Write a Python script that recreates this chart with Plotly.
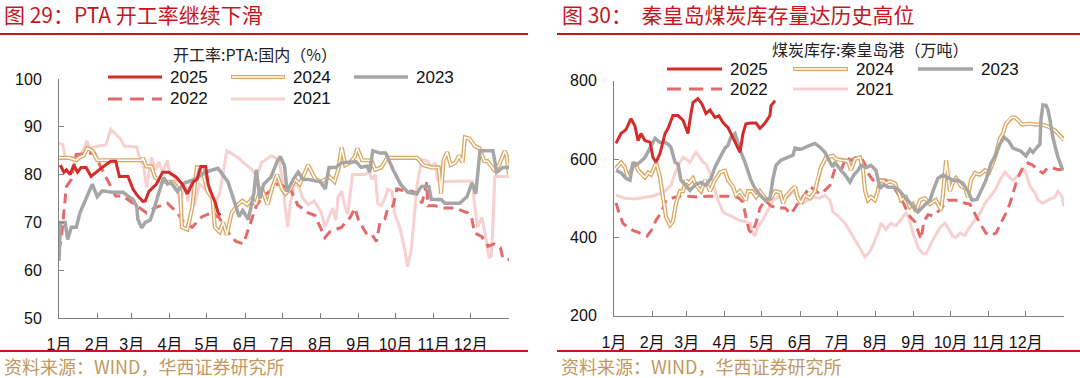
import plotly.graph_objects as go

W, H = 1080, 378

MONTH_START = [0, 31, 59, 90, 120, 151, 181, 212, 243, 273, 304, 334, 365]
MONTH_LABELS = ["1月", "2月", "3月", "4月", "5月", "6月", "7月", "8月", "9月", "10月", "11月", "12月", ""]

# ---------------- Left chart: PTA operating rate (%) ----------------
L25_D = [1,4,6,9,12,15,18,22,26,30,35,42,46,49,56,60,63,68,70,73,79,84,89,95,100,104,109,112,115,119,121,124,127,129,131]
L25_V = [82,80.5,81,80,82,80.5,81.5,81.5,79.6,80.5,81.5,82.8,82.8,79.6,79.6,77,75.8,74.4,74.5,76.5,78,80.5,80.5,79.5,78,76,78.5,79,81.7,81.7,78,75.8,74,72,71.5]

L24_D = [0,8,14,16,20,23,27,31,45,60,67,68,71,75,78,84,92,95,98.3,99.7,104.1,108,111.8,115.7,120.6,124.5,126.4,130.3,133.2,136.1,140,144.9,148.7,152.6,156.5,159.4,164.3,169.1,173,176.9,180.8,183.7,187.6,191.5,195.3,202.1,208,212.8,219.6,223.5,226.4,229.3,232.2,236.1,240,242,245.8,250.7,253.6,256.5,261.4,266.2,280.8,290.5,295.4,302.2,308,309.9,311.9,314.8,317.7,321.6,324.5,327.4,329.3,333.2,337.1,341,344.9,347.5,353,357,361.5,363,365]
L24_V = [83.5,83.5,83,83.5,84,85.5,85,83,83,83,83,83.5,81.7,81.7,79.4,78.5,78.5,77.5,76.5,69,68.5,73,81.5,81.5,76.5,75,69,68,70,67.4,72,73.7,74.5,73.7,75,73.7,77.3,73.7,77.3,80,77,76,77,79,78,82,79,78.5,79.5,78.5,81,85.7,82,82.5,83.8,85.5,83,83,82.8,81,81.5,83.5,83.5,83.5,82,81.5,81.5,76,83,84.7,82,82.5,84,82.5,87.8,87.5,86,85.5,82.8,82.8,81,82,85,84,80]

L23_D = [0,1,5,7,10,14,17,22.5,27,31,35,43,52,56,60,63,64,67,70,74,77,81,85,88,91,96,102,110,118.5,129,137,143.5,146,149,153.5,158,160,163,166,172,177,179.5,183,185,190,194,198,202,212,216,219,224.5,229.5,241,245,250,252,254.5,260.5,265,271,277,283,290,294,300,302,310,313,325,331,335,338,341.5,352,355,360,365]
L23_V = [62,70,70,66.4,69,69,72,75.4,78,75.4,76.6,76.3,76.3,75.5,74.8,73.4,70.6,68.9,70,70.5,72.7,76.2,79.4,78,78.3,76.5,78.3,79,80.5,81.3,78.5,73.4,71.2,72.5,70.6,76,81,75,78,79.5,82.8,83.8,81.8,76.4,79,80.5,79,79,78.5,77,81.5,81.5,82.5,82.7,81.5,81.8,80.5,85,84.5,84.5,81,78,76.3,76,77.5,77.5,74.8,74.8,74,74,75.4,78.3,76,85,85,80.5,81.5,81.5]

L22_D = [0,2,6,10,14,24,29,32,35,41,46,52,60,63,71,77,88,96,102,108,116,124,130,135,143.5,149.5,153,160,166,171,174.5,177,183,185.6,191.5,193.4,202.1,207.5,211.9,215.7,219.6,229.3,232.2,236.1,240,242.9,246.3,249.7,253.6,257.5,260.4,264.3,266.7,271.1,274,281.8,286.1,290.5,294.4,298.3,299.2,305.1,310.4,321.1,331.3,334.7,337.1,343,346,348,353,358,360,365]
L22_V = [64,67,77.5,79,84.2,84.5,84.5,82.5,81,78,75.5,75.5,74,73.4,72,73,74,72,69.7,69,71.2,72,71,68.5,66,65.5,68,73.4,75.6,76.5,77.5,78,77.5,78,75,73.7,72,71.5,69,66.8,68,69,70,71,73,70.5,69,67.5,67.5,66,70,70.7,73,73.5,77,76.5,76.5,76,74,78.4,73.5,73.5,73,73,72,71,67.8,67,66,65,65.5,64.7,62.5,62.2]

L21_D = [0,3,5,14,18,22.5,25,32,38,42,50,53,63,66,68.5,71,75,78.5,81,84,88,90,94,96,98.2,102.1,104.6,107,109.9,113.8,120.6,126.4,130.3,136.1,140,145,149.7,156.5,160.4,164.3,167.2,172,175,178.8,181.7,183.2,185.6,187.6,191.5,195.3,197.3,202.1,207,212.8,215.7,218.6,222,224.5,226.4,229.3,232.2,234.2,238.1,243.9,247.8,251.7,253.6,256.5,258.5,261.4,264.3,266.7,270.1,272,276.4,280.8,282.7,285.6,288.6,290.5,294.4,299.2,302.2,305.1,307,310.4,319.6,335.2,337.1,339.5,343,345.4,348.8,350.7,352,353.5,365]
L21_V = [86.5,86.3,83.6,83.6,84,87,85.5,86,86.2,89.5,87.4,86,85.8,83,82,77.3,83.6,81,82.7,80.5,83,80,79.4,76.5,74.4,78,74.4,79,73.5,78,76.5,74,76,85,84.4,83.6,82.5,81,79.6,82.6,83,84,83.6,82.8,78,73.7,69,74,78.5,77,75.3,73.7,74.5,72,69,71,73,70.5,75.3,76.5,73,71.8,80,80,80,80.5,79,80,74,73.5,75,77,76.5,72,69,63.9,60.7,64,73.7,78,83.2,82.8,81.5,82.5,79,78.5,78.6,78.6,73.7,69,71,68,62.6,63,70,79.6,79.6]

# ---------------- Right chart: Qinhuangdao coal stock (10k t) ----------------
R25_D = [1.6,5.7,9.7,13.8,17,19.5,21.9,25.1,29.2,31.6,34.1,37.3,41.4,43.8,47.8,51.9,56,60,61.6,64,68.1,71.4,74.6,77.9,81.9,85.2,88.4,92.5,94.9,98.9,102.2,104.6,107,111,115.2,118.4,122.5,126.5,127.3,130.6]
R25_V = [640,665,675,703,684,647,665,647,643,604,592,614,665,678,711,711,699,665,700,744,754,740,716,725,706,710,693,680,665,640,617,665,690,692,692,678,692,711,736,749]

R24_D = [1.6,5.7,8.9,11.4,14.6,17,19.5,21.9,25.1,27.6,30,33.3,34.9,37.3,39.7,42.2,45.4,47.8,50.3,53.5,56,58.4,60.8,64,66.5,70.6,73.8,77.9,81.9,86,90,92.5,96.5,98.9,102.2,104.6,107,108.7,111.9,115.2,118.4,122.5,124.9,127.3,130.6,134.6,137.1,139.5,143.5,146.8,149.2,151.7,154.9,159,163,165.4,167.9,171.9,177.6,180,184.1,189.8,192.2,195.5,199.5,201.9,203.6,206,208.4,211.7,214.1,215.7,219,220.6,223.8,227.9,230.3,232.8,236.8,240,242.5,244.9,248.2,252.2,256.3,261.1,265.2,266.8,269.3,270.9,272.5,274.9,277.4,281.4,284.7,287.1,289.5,292.8,296.8,300.9,304.1,307.4,309.8,313,315.5,317.9,321.2,322.8,325.2,327.6,330.9,337.4,342.2,347.1,352,357.6,363.3,365]
R24_V = [576,591,579,551,575,591,572,562,553,565,560,584,584,553,503,452,431,440,487,518,518,546,538,551,533,518,546,518,546,566,570,546,530,508,518,505,495,518,518,503,518,500,495,500,518,515,487,505,518,530,500,487,508,500,518,553,579,604,608,600,597,595,571,600,604,575,520,495,503,495,520,546,543,538,543,538,520,495,503,478,485,465,495,500,485,495,470,508,597,556,518,540,551,531,526,503,546,564,560,571,565,591,612,652,665,690,703,706,706,700,688,690,688,688,683,673,655,648]

R23_D = [1.6,5.7,9.7,13,15.4,17.8,21.1,25.1,29.2,33.3,37.3,41.4,43.8,46.2,49.5,51.9,54.3,57.6,61.6,64,66.5,70.6,74.6,78.7,81.9,86,90,92.5,94.9,98.1,100.6,103,106.2,108.7,111.1,114.4,118.4,122.5,126.5,129,131.4,135.4,141.1,145.2,146.8,151.7,157.3,163,167.1,171.1,175.2,177.6,179.2,181.7,184.1,187.3,191.4,194.6,197.9,200.3,204.4,208.4,212.5,215.7,219,222.2,227.9,231.9,236,240,244.1,246.5,252.2,256.3,258.7,262.8,266.8,270.9,274.9,279,283,287.1,290.3,294.4,297.6,301.7,305.7,309.8,313,316.3,320.3,323.6,330.1,334.1,337.4,339.8,343.1,345.5,346.3,347.9,350.4,352,353.6,356,360,364.1]
R23_V = [571,565,551,546,592,585,592,604,628,653,642,642,638,630,592,587,546,535,520,528,536,540,533,551,579,604,628,635,656,665,640,617,592,571,546,525,508,495,500,551,584,597,604,610,628,625,633,640,630,617,592,580,592,580,571,560,541,560,571,584,578,584,571,525,535,528,528,518,503,487,475,465,483,495,518,551,559,553,546,546,538,518,495,497,518,546,589,612,638,656,645,628,620,608,625,617,630,638,700,738,737,726,700,655,605,571]

R22_D = [1.6,4.1,7.3,11.4,15.4,21.1,26.8,30.8,34.1,38.1,42.2,47,51.9,60,68.1,76.2,84.3,92.5,100.6,104.6,107,109.5,111.9,115.2,118.4,122.5,127.3,133,138.7,143.5,146.8,150.8,154.9,159,163,167.1,171.1,175.2,179.2,184.1,188.2,192.2,196.3,200.3,203.6,206,210,215.7,220.6,224.6,228.7,231.9,235.2,238.4,240.9,244.1,246.5,249,251.4,254.7,258.7,264.4,270.9,279,284.7,288.7,293.6,296.8,301.7,305.7,309.8,313.9,317.9,321.2,324.4,326.8,329.3,332.5,335.8,339.8,343.9,347.9,351.2,355.2,360,364.9]
R22_V = [488,462,436,425,418,411,403,420,444,462,495,500,505,505,503,505,505,505,502,490,452,418,411,437,475,495,480,475,475,460,475,495,510,530,520,510,520,533,575,571,604,597,604,604,587,564,546,548,546,538,520,503,485,462,450,440,415,395,440,458,455,470,495,495,487,485,455,436,411,405,411,436,462,487,520,546,564,584,590,584,571,564,576,578,573,573]

R21_D = [1.6,8.9,17,25.1,30.8,35.7,41.4,46.2,49.5,53.5,56,58.4,61.6,64,66.5,69.7,72.2,74.6,77.9,80.3,84.3,88.4,90.8,94.9,100.6,106.2,110.3,112.7,114.4,116.8,120.8,124.9,129,133,137.1,141.1,145.2,149.2,153.3,157.3,161.4,167.1,171.1,175.2,177.6,181.7,187.3,192.2,196.3,200.3,203.6,206.8,210,214.1,216.5,220.6,224.6,228.7,232.8,236.8,239.2,242.5,246.5,250.6,253,256.3,260.3,265.2,268.4,271.7,274.9,277.4,280.6,284.7,287.1,292.8,296.8,300.9,304.9,309,313,317.1,320.3,323.6,326.8,330.1,333.3,337.4,341.4,343.9,347.9,352,357.6,360,363.3,365]
R21_V = [508,500,498,503,505,510,518,533,564,592,604,600,592,605,617,604,592,587,564,538,495,465,460,455,445,440,436,411,403,428,445,470,495,503,497,503,518,503,487,495,503,500,508,495,465,455,436,411,389,368,350,360,380,411,436,420,436,430,445,462,450,411,375,358,358,380,403,428,436,420,403,400,411,405,420,445,462,487,503,520,546,567,555,546,555,567,571,531,513,495,487,495,503,518,505,478]

LEFT_TICKS = [50, 60, 70, 80, 90, 100]
RIGHT_TICKS = [200, 400, 600, 800]

# ---------------- styles ----------------
RED = "#D42B2B"
GOLD = "#D9A965"
GRAY = "#A6A6A6"
DASHRED = "#E36A6A"
PINK = "#F7D0D0"
DASH = "10px,6px"
TITLE_RED = "#C8161E"
SRC_COLOR = "#BF9862"
CJK = "Noto Sans CJK SC"
NUM = "Liberation Sans, Arial, Noto Sans CJK SC"

fig = go.Figure()


def add_series(xa, ya, data):
    (d25, v25, d24, v24, d23, v23, d22, v22, d21, v21) = data
    common = dict(mode="lines", xaxis=xa, yaxis=ya, showlegend=False, hoverinfo="skip")
    fig.add_trace(go.Scatter(x=d21, y=v21, line=dict(color=PINK, width=3), **common))
    fig.add_trace(go.Scatter(x=d22, y=v22, line=dict(color=DASHRED, width=3, dash=DASH), **common))
    fig.add_trace(go.Scatter(x=d24, y=v24, line=dict(color=GOLD, width=4.2), **common))
    fig.add_trace(go.Scatter(x=d24, y=v24, line=dict(color="white", width=1.5), **common))
    fig.add_trace(go.Scatter(x=d23, y=v23, line=dict(color=GRAY, width=3.5), **common))
    fig.add_trace(go.Scatter(x=d25, y=v25, line=dict(color=RED, width=3), **common))


add_series("x", "y", (L25_D, L25_V, L24_D, L24_V, L23_D, L23_V, L22_D, L22_V, L21_D, L21_V))
add_series("x2", "y2", (R25_D, R25_V, R24_D, R24_V, R23_D, R23_V, R22_D, R22_V, R21_D, R21_V))


def px(x):
    return x / W


def py(y):
    return 1 - y / H


AX_COLOR = "#7F7F7F"
xcommon = dict(range=[0, 365], tickmode="array", tickvals=MONTH_START, ticktext=MONTH_LABELS,
               ticks="inside", ticklen=5, tickcolor=AX_COLOR, showline=True, linecolor=AX_COLOR,
               linewidth=1, showgrid=False, zeroline=False, automargin=False,
               tickfont=dict(family=NUM, size=16, color="#111111"), ticklabelstandoff=12)
ycommon = dict(ticks="inside", ticklen=5, tickcolor=AX_COLOR, showline=True, linecolor=AX_COLOR,
               linewidth=1, showgrid=False, zeroline=False, automargin=False,
               tickfont=dict(family=NUM, size=16, color="#111111"), ticklabelstandoff=13)

fig.update_layout(
    width=W, height=H, margin=dict(l=0, r=0, t=0, b=0, autoexpand=False),
    paper_bgcolor="white", plot_bgcolor="white",
    xaxis=dict(domain=[px(59), px(509)], anchor="y", **xcommon),
    yaxis=dict(domain=[py(318), py(79)], anchor="x", range=[50, 100], tickvals=LEFT_TICKS, **ycommon),
    xaxis2=dict(domain=[px(614), px(1064)], anchor="y2", **xcommon),
    yaxis2=dict(domain=[py(315.7), py(80.7)], anchor="x2", range=[200, 800], tickvals=RIGHT_TICKS, **ycommon),
)

shapes = []
annotations = []

# headers, separators, sources
for x0, x1, title, sx in [(0, 528, "图 29：PTA 开工率继续下滑", 2),
                          (557, 1080, "图 30：  秦皇岛煤炭库存量达历史高位", 560)]:
    shapes.append(dict(type="line", xref="paper", yref="paper", x0=px(x0), x1=px(x1), y0=py(34), y1=py(34),
                       line=dict(color=TITLE_RED, width=2)))
    shapes.append(dict(type="line", xref="paper", yref="paper", x0=px(x0), x1=px(x1), y0=py(351), y1=py(351),
                       line=dict(color=TITLE_RED, width=2)))
    annotations.append(dict(xref="paper", yref="paper", x=px(sx), y=py(14), xanchor="left", yanchor="middle",
                            text=title, showarrow=False, font=dict(family=CJK, size=21, color=TITLE_RED)))
    annotations.append(dict(xref="paper", yref="paper", x=px(x0 + 2), y=py(366), xanchor="left", yanchor="middle",
                            text="资料来源：WIND，华西证券研究所", showarrow=False,
                            font=dict(family=CJK, size=18, color=SRC_COLOR)))

annotations.append(dict(xref="paper", yref="paper", x=px(255), y=py(54), xanchor="center", yanchor="middle",
                        text="开工率:PTA:国内（%）", showarrow=False, font=dict(family=CJK, size=16, color="#222222")))
annotations.append(dict(xref="paper", yref="paper", x=px(870), y=py(49), xanchor="center", yanchor="middle",
                        text="煤炭库存:秦皇岛港（万吨）", showarrow=False, font=dict(family=CJK, size=16, color="#222222")))


def legend(cols, rows, width):
    items = [("2025", 0, 0), ("2024", 1, 0), ("2023", 2, 0), ("2022", 0, 1), ("2021", 1, 1)]
    for name, c, r in items:
        x0 = cols[c]
        x1 = x0 + width
        y = rows[r]
        if name == "2024":
            shapes.append(dict(type="line", xref="paper", yref="paper", x0=px(x0), x1=px(x1), y0=py(y), y1=py(y),
                               line=dict(color=GOLD, width=4.2)))
            shapes.append(dict(type="line", xref="paper", yref="paper", x0=px(x0 + 1), x1=px(x1 - 1), y0=py(y), y1=py(y),
                               line=dict(color="white", width=1.5)))
        else:
            st = {"2025": dict(color=RED, width=3), "2023": dict(color=GRAY, width=3.5),
                  "2022": dict(color=DASHRED, width=3, dash="14px,8px"), "2021": dict(color=PINK, width=3)}[name]
            shapes.append(dict(type="line", xref="paper", yref="paper", x0=px(x0), x1=px(x1), y0=py(y), y1=py(y),
                               line=st))
        annotations.append(dict(xref="paper", yref="paper", x=px(x1 + 6), y=py(y), xanchor="left", yanchor="middle",
                                text=name, showarrow=False, font=dict(family=NUM, size=17, color="#111111")))


legend([108, 231, 354], [77, 99], 54)
legend([667, 793, 918], [69, 89], 55)

fig.update_layout(shapes=shapes, annotations=annotations)
fig.write_html("out.html")
